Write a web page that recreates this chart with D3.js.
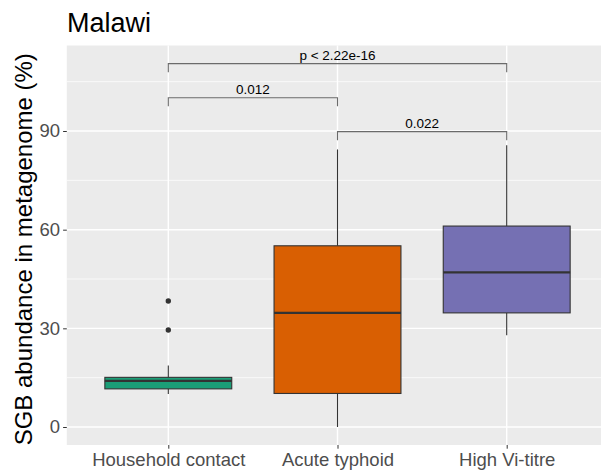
<!DOCTYPE html>
<html>
<head>
<meta charset="utf-8">
<script src="https://cdn.jsdelivr.net/npm/d3@7"></script>
<style>
  body { margin: 0; background: #fff; }
  svg { display: block; font-family: "Liberation Sans", Arial, sans-serif; }
</style>
</head>
<body>
<svg width="601" height="470"></svg>
<script>
// box summaries (percent)
const groups = ["Household contact", "Acute typhoid", "High Vi-titre"];
const colors = ["#1B9E77", "#D95F02", "#7570B3"];
const lowerWhisker = [10.0, 0.0, 27.9];
const q1 = [11.6, 10.2, 34.7];
const medians = [14.0, 34.7, 47.0];
const q3 = [15.1, 55.1, 61.1];
const upperWhisker = [18.7, 84.4, 85.7];
const outliers = [[29.5, 38.3], [], []];
const yTicks = [0, 30, 60, 90];

// pairwise comparisons
const pairs = [[0, 1], [1, 2], [0, 2]];
const pLabels = ["0.012", "0.022", "p < 2.22e-16"];
const pLevels = [100.1, 89.8, 110.5];

const svg = d3.select('svg');
const width = +svg.attr('width');
const panel = {left: 66.8, right: 608, top: 45.5, bottom: 445};

const x = d3.scalePoint().domain(groups).range([168.3, 506.7]);
const step = x.step();
const y = d3.scaleLinear().domain([-5.47, 116.0]).range([panel.bottom, panel.top]);

// panel background + grid
svg.append('rect')
  .attr('x', panel.left).attr('y', panel.top)
  .attr('width', panel.right - panel.left).attr('height', panel.bottom - panel.top)
  .attr('fill', '#EBEBEB');

const minor = [15, 45, 75, 105];
svg.append('g').selectAll('line').data(minor).enter().append('line')
  .attr('x1', panel.left).attr('x2', panel.right)
  .attr('y1', d => y(d)).attr('y2', d => y(d))
  .attr('stroke', '#fff').attr('stroke-width', 0.7);
svg.append('g').selectAll('line').data(yTicks).enter().append('line')
  .attr('x1', panel.left).attr('x2', panel.right)
  .attr('y1', d => y(d)).attr('y2', d => y(d))
  .attr('stroke', '#fff').attr('stroke-width', 1.4);
svg.append('g').selectAll('line').data(groups).enter().append('line')
  .attr('x1', d => x(d)).attr('x2', d => x(d))
  .attr('y1', panel.top).attr('y2', panel.bottom)
  .attr('stroke', '#fff').attr('stroke-width', 1.4);

// axes
const yAxis = svg.append('g')
  .attr('transform', `translate(${panel.left},0)`)
  .call(d3.axisLeft(y).tickValues(yTicks).tickSize(3.7).tickPadding(3));
yAxis.select('.domain').remove();
yAxis.selectAll('.tick line').attr('stroke', '#333');
yAxis.selectAll('.tick text')
  .attr('fill', '#4D4D4D').style('font-size', '18.5px')
  .style('font-family', '"Liberation Sans", Arial, sans-serif');

const xAxis = svg.append('g')
  .attr('transform', `translate(0,${panel.bottom})`)
  .call(d3.axisBottom(x).tickSize(3.7).tickPadding(4));
xAxis.select('.domain').remove();
xAxis.selectAll('.tick line').attr('stroke', '#333');
xAxis.selectAll('.tick text')
  .attr('fill', '#4D4D4D').style('font-size', '18.5px')
  .style('font-family', '"Liberation Sans", Arial, sans-serif');

// boxes
const boxW = step * 0.75;
const boxes = svg.append('g').selectAll('g').data(groups).enter().append('g');

boxes.append('line')
  .attr('x1', d => x(d)).attr('x2', d => x(d))
  .attr('y1', (d, i) => y(q3[i])).attr('y2', (d, i) => y(upperWhisker[i]))
  .attr('stroke', '#333').attr('stroke-width', 1.1);
boxes.append('line')
  .attr('x1', d => x(d)).attr('x2', d => x(d))
  .attr('y1', (d, i) => y(q1[i])).attr('y2', (d, i) => y(lowerWhisker[i]))
  .attr('stroke', '#333').attr('stroke-width', 1.1);
boxes.append('rect')
  .attr('x', d => x(d) - boxW / 2)
  .attr('y', (d, i) => y(q3[i]))
  .attr('width', boxW)
  .attr('height', (d, i) => y(q1[i]) - y(q3[i]))
  .attr('fill', (d, i) => colors[i])
  .attr('stroke', '#333').attr('stroke-width', 1.1);
boxes.append('line')
  .attr('x1', d => x(d) - boxW / 2).attr('x2', d => x(d) + boxW / 2)
  .attr('y1', (d, i) => y(medians[i])).attr('y2', (d, i) => y(medians[i]))
  .attr('stroke', '#333').attr('stroke-width', 2.3);

boxes.selectAll('circle')
  .data((d, i) => outliers[i].map(v => ({g: d, v: v})))
  .enter().append('circle')
  .attr('cx', d => x(d.g)).attr('cy', d => y(d.v))
  .attr('r', 2.7).attr('fill', '#333');

// comparison brackets
const tip = 2.6;
const br = svg.append('g').selectAll('g').data(pairs).enter().append('g');
br.append('path')
  .attr('d', (p, i) => {
    const x1 = x(groups[p[0]]), x2 = x(groups[p[1]]);
    const yl = y(pLevels[i]), yt = y(pLevels[i] - tip);
    return `M${x1},${yt}V${yl}H${x2}V${yt}`;
  })
  .attr('fill', 'none').attr('stroke', '#6b6b6b').attr('stroke-width', 1.1);
br.append('text')
  .attr('x', p => (x(groups[p[0]]) + x(groups[p[1]])) / 2)
  .attr('y', (p, i) => y(pLevels[i]) - 3.5)
  .attr('text-anchor', 'middle')
  .style('font-size', '13.5px')
  .attr('fill', '#000')
  .text((p, i) => pLabels[i]);

// titles
svg.append('text')
  .attr('x', 67).attr('y', 32)
  .style('font-size', '27px')
  .attr('fill', '#000')
  .text('Malawi');

svg.append('text')
  .attr('transform', `translate(32,${(panel.top + panel.bottom) / 2 + 4}) rotate(-90)`)
  .attr('text-anchor', 'middle')
  .style('font-size', '24px')
  .attr('fill', '#000')
  .text('SGB abundance in metagenome (%)');
</script>
</body>
</html>
